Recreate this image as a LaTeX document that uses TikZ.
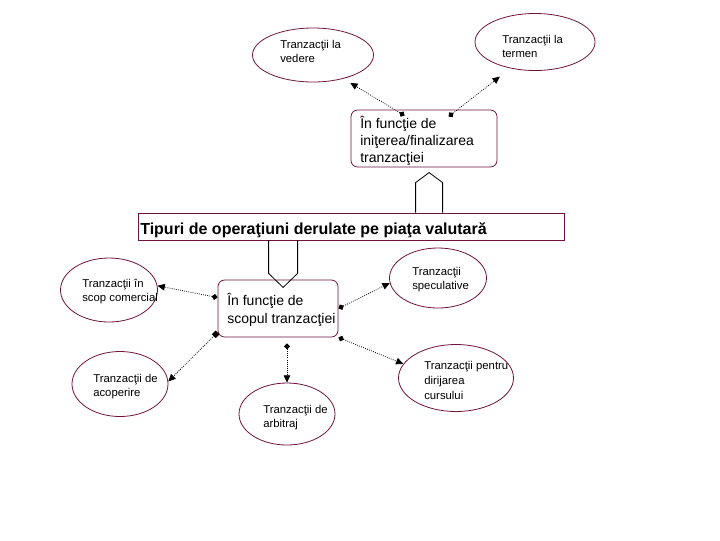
\documentclass[tikz,border=0pt]{standalone}
\usepackage{fontspec}
\setmainfont{Liberation Sans}
\usetikzlibrary{arrows.meta,positioning,calc,shapes.geometric}
\definecolor{rimred}{RGB}{110,20,60}
\tikzset{
  oval/.style={draw=rimred, ellipse, line width=0.6pt, inner sep=0pt},
  ovaltext/.style={anchor=base west, align=left, inner sep=0pt, font=\fontsize{8.5}{11}\selectfont},
  roundbox/.style={draw=rimred, rounded corners=5pt, line width=0.6pt, inner sep=0pt},
  boxtext/.style={anchor=base west, align=left, inner sep=0pt, font=\fontsize{10.5}{13}\selectfont},
  titlebar/.style={draw=rimred, line width=0.6pt, inner sep=0pt},
  blockarrow/.style={draw=black, line width=0.6pt},
  link/.style={densely dotted, line width=0.6pt, {Diamond[length=4.5pt,width=4.5pt]}-{Triangle[length=5.5pt,width=5pt]}},
  sqlink/.style={link, {Square[length=4pt,width=4pt]}-{Triangle[length=5.5pt,width=5pt]}}
}
\begin{document}
\begin{tikzpicture}[x=0.75pt, y=-0.75pt]
\useasboundingbox (0,0) rectangle (720,540);
% ovals
\node[oval, minimum width=90.75pt, minimum height=40.5pt] (vedere) at (313,55) {};
\node[oval, minimum width=90pt, minimum height=42.75pt] (termen) at (535,42) {};
\node[oval, minimum width=72.75pt, minimum height=48pt] (comercial) at (109,290) {};
\node[oval, minimum width=72pt, minimum height=48.75pt] (acoperire) at (120,384) {};
\node[oval, minimum width=72pt, minimum height=46.5pt] (arbitraj) at (287,414) {};
\node[oval, minimum width=72.75pt, minimum height=45pt] (speculative) at (438,278) {};
\node[oval, minimum width=86.25pt, minimum height=50.25pt] (dirijarea) at (456,378) {};
% oval texts (anchored at the last line)
\node[ovaltext] (vedere-txt) at (280,62.7) {Tranzacţii la\\vedere};
\node[ovaltext] (termen-txt) at (502,57.7) {Tranzacţii la\\termen};
\node[ovaltext] (comercial-txt) at (82,301.7) {Tranzacţii în\\scop comercial};
\node[ovaltext] (acoperire-txt) at (93,396.7) {Tranzacţii de\\acoperire};
\node[ovaltext] (arbitraj-txt) at (263,427.7) {Tranzacţii de\\arbitraj};
\node[ovaltext] (speculative-txt) at (412,289.7) {Tranzacţii\\speculative};
\node[ovaltext] (dirijarea-txt) at (424,399) {Tranzacţii pentru\\dirijarea\\cursului};
% boxes
\node[roundbox, minimum width=109.5pt, minimum height=42.75pt] (box1) at (424,138.5) {};
\node[boxtext] (box1-txt) at (360,162.7) {În funcţie de\\iniţerea/finalizarea\\tranzacţiei};
\node[titlebar, minimum width=319.5pt, minimum height=20.25pt] (bar) at (351,226.5) {};
\node[anchor=base west, inner sep=0pt, font=\fontsize{12}{14}\selectfont\bfseries] (bar-txt) at (140,234) {Tipuri de operaţiuni derulate pe piaţa valutară};
\node[roundbox, minimum width=90pt, minimum height=42.75pt] (box2) at (278,308.5) {};
\node[boxtext] (box2-txt) at (227,323.3) {În funcţie de\\scopul tranzacţiei};
% block arrows
\draw[blockarrow] ($(bar.north west)+(278,0)$) -- ++(0,-30) -- ++(13.5,-10) -- ++(13.5,10) -- ++(0,30);
\draw[blockarrow] ($(bar.south west)+(131,0)$) -- ++(0,33) -- ++(14.5,14) -- ++(14.5,-14) -- ++(0,-33);
% connectors
\coordinate (v1) at ($(box1.north west)+(54,6)$);
\coordinate (t1) at ($(box1.north west)+(98,7)$);
\coordinate (c2) at ($(box2.west)+(0,-11)$);
\coordinate (a2) at ($(box2.south west)+(0,-5)$);
\coordinate (r2) at ($(box2.south)+(9,6)$);
\coordinate (s2) at (box2.east);
\coordinate (d2) at (box2.south east);
\draw[link, shorten >=6pt] (v1) -- (vedere.-38);
\draw[link, shorten >=10pt] (t1) -- (termen.227);
\draw[link] (c2) -- (comercial.5);
\draw[sqlink] (a2) -- (acoperire.3);
\draw[link] (r2) -- (arbitraj.north);
\draw[link] (s2) -- (speculative.186);
\draw[link] (d2) -- (dirijarea.165);
\end{tikzpicture}
\end{document}
